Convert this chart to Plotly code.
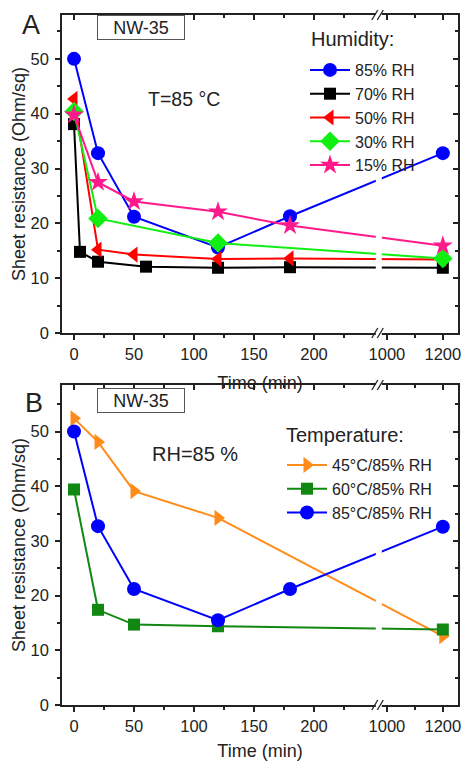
import plotly.graph_objects as go

# sheet resistance (Ohm/sq) vs time (min)
# panel A: T = 85 C, different humidity
t_85rh = [0, 20, 50, 120, 180, 1200]
r_85rh = [50.0, 32.8, 21.2, 15.6, 21.3, 32.8]
t_70rh = [0, 5, 20, 60, 120, 180, 1200]
r_70rh = [38.1, 14.8, 13.0, 12.1, 11.9, 12.0, 11.9]
t_50rh = [0, 20, 50, 120, 180, 1200]
r_50rh = [42.7, 15.2, 14.3, 13.5, 13.6, 13.4]
t_30rh = [0, 20, 120, 1200]
r_30rh = [40.4, 20.9, 16.4, 13.6]
t_15rh = [0, 20, 50, 120, 180, 1200]
r_15rh = [39.8, 27.5, 24.0, 22.1, 19.6, 15.9]

# panel B: RH = 85 %, different temperature
t_45c = [0, 20, 50, 120, 1200]
r_45c = [52.4, 48.1, 39.1, 34.2, 12.6]
t_60c = [0, 20, 50, 120, 1200]
r_60c = [39.4, 17.4, 14.7, 14.4, 13.8]
t_85c = [0, 20, 50, 120, 180, 1200]
r_85c = [50.0, 32.7, 21.2, 15.5, 21.2, 32.6]

x_ticks = [0, 50, 100, 150, 200, 1000, 1200]
x_minor = [25, 75, 125, 175, 225, 1100]
y_ticks = [0, 10, 20, 30, 40, 50]
y_minor = [5, 15, 25, 35, 45, 55]

# broken x axis: linear up to BREAK, then a compressed segment from SEG2_START
BREAK = 254
SEG2_START = 971
SEG2_SCALE = 0.233

W, H = 464, 761
L, R, T, B = 62, 6, 15, 56
FONT = "Liberation Sans, Arial, sans-serif"
INK = "#222222"


def tx(v):
    return v if v <= BREAK else BREAK + (v - SEG2_START) * SEG2_SCALE


def px_x(px):
    return (px - L) / (W - L - R)


def px_y(py):
    return (H - B - py) / (H - T - B)


def series(t, r, name, color, symbol, size, xa, ya, legend):
    return go.Scatter(
        x=[tx(v) for v in t],
        y=r,
        name=name,
        mode="lines+markers",
        line=dict(color=color, width=2),
        marker=dict(symbol=symbol, size=size, color=color),
        xaxis=xa,
        yaxis=ya,
        legend=legend,
    )


fig = go.Figure()
fig.add_trace(series(t_85rh, r_85rh, "85% RH", "#0000ff", "circle", 14, "x", "y", "legend"))
fig.add_trace(series(t_70rh, r_70rh, "70% RH", "#000000", "square", 12, "x", "y", "legend"))
fig.add_trace(series(t_50rh, r_50rh, "50% RH", "#ff0000", "triangle-left", 14, "x", "y", "legend"))
fig.add_trace(series(t_30rh, r_30rh, "30% RH", "#11ee11", "diamond", 15, "x", "y", "legend"))
fig.add_trace(series(t_15rh, r_15rh, "15% RH", "#ff1a8c", "star", 15, "x", "y", "legend"))

fig.add_trace(series(t_45c, r_45c, "45°C/85% RH", "#ff8c1a", "triangle-right", 14, "x2", "y2", "legend2"))
fig.add_trace(series(t_60c, r_60c, "60°C/85% RH", "#118811", "square", 12, "x2", "y2", "legend2"))
fig.add_trace(series(t_85c, r_85c, "85°C/85% RH", "#0000ff", "circle", 14, "x2", "y2", "legend2"))

# transparent helper traces so the overlaid top/right axes (inward ticks) get drawn
for xa, ya in [("x3", "y3"), ("x4", "y4")]:
    fig.add_trace(go.Scatter(
        x=[tx(t_85rh[0])], y=[r_85rh[0]], xaxis=xa, yaxis=ya, mode="markers",
        marker=dict(opacity=0), showlegend=False, hoverinfo="skip",
    ))

x_range = [-10, 320]
xt = [tx(v) for v in x_ticks]
xm = [tx(v) for v in x_minor]

dom_a = [px_y(333), 1]
dom_b = [0, px_y(385)]

axis_line = dict(showline=True, linewidth=1.5, linecolor=INK, showgrid=False, zeroline=False,
                 tickwidth=1.5, tickcolor=INK, ticklen=5)

x_common = dict(
    axis_line,
    mirror=True,
    range=x_range,
    tickmode="array",
    tickvals=xt,
    ticktext=[str(v) for v in x_ticks],
    ticks="outside",
    minor=dict(tickvals=xm, ticklen=3, tickwidth=1.5, tickcolor=INK, ticks="outside"),
    tickfont=dict(size=16.5, color=INK),
    title=dict(text="Time (min)", font=dict(size=18, color=INK), standoff=15),
)
x_top = dict(
    axis_line,
    range=x_range,
    tickmode="array",
    tickvals=xt,
    ticks="inside",
    minor=dict(tickvals=xm, ticklen=3, tickwidth=1.5, tickcolor=INK, ticks="inside"),
    showticklabels=False,
    side="top",
)
y_common = dict(
    axis_line,
    mirror=True,
    tickmode="array",
    tickvals=y_ticks,
    ticks="outside",
    minor=dict(tickvals=y_minor, ticklen=3, tickwidth=1.5, tickcolor=INK, ticks="outside"),
    tickfont=dict(size=16.5, color=INK),
    ticklabelstandoff=3,
    title=dict(text="Sheet resistance (Ohm/sq)", font=dict(size=18, color=INK), standoff=0),
)
y_right = dict(
    axis_line,
    tickmode="array",
    tickvals=y_ticks,
    ticks="inside",
    minor=dict(tickvals=y_minor, ticklen=3, tickwidth=1.5, tickcolor=INK, ticks="inside"),
    showticklabels=False,
    side="right",
)

fig.update_layout(
    xaxis=dict(x_common, anchor="y"),
    yaxis=dict(y_common, domain=dom_a, range=[0, 58], anchor="x"),
    xaxis2=dict(x_common, anchor="y2"),
    yaxis2=dict(y_common, domain=dom_b, range=[0, 58.5], anchor="x2"),
    xaxis3=dict(x_top, overlaying="x", anchor="y"),
    yaxis3=dict(y_right, overlaying="y", anchor="x", range=[0, 58]),
    xaxis4=dict(x_top, overlaying="x2", anchor="y2"),
    yaxis4=dict(y_right, overlaying="y2", anchor="x2", range=[0, 58.5]),
)

# axis breaks: white gap through lines and axes, plus the // marks
for xref, yref in [("x", "y domain"), ("x2", "y2 domain")]:
    fig.add_shape(
        type="rect", xref=xref, yref=yref, xsizemode="pixel", xanchor=BREAK,
        x0=-3, x1=3, y0=-0.012, y1=1.012, fillcolor="white", line_width=0, layer="above",
    )
    for yv in (0, 1):
        for dx in (-4, 1.5):
            fig.add_shape(
                type="line", xref=xref, yref=yref, xsizemode="pixel", xanchor=BREAK,
                ysizemode="pixel", yanchor=yv, x0=dx - 3, x1=dx + 3, y0=-5, y1=5,
                line=dict(color=INK, width=1.3), layer="above",
            )

ann = []
ann.append(dict(x=px_x(31), y=px_y(25), text="A", font=dict(size=27, color=INK)))
ann.append(dict(x=px_x(34), y=px_y(403), text="B", font=dict(size=27, color=INK)))
for cy in (27, 400):
    ann.append(dict(
        x=px_x(141), y=px_y(cy), text="NW-35", font=dict(size=18, color=INK),
        width=84, height=21, bordercolor="#555555", borderwidth=1, borderpad=1, bgcolor="white",
    ))
ann.append(dict(x=px_x(184), y=px_y(99), text="T=85 °C", font=dict(size=19.5, color=INK)))
ann.append(dict(x=px_x(195), y=px_y(454), text="RH=85 %", font=dict(size=20, color=INK)))
for a in ann:
    a.update(xanchor="center")
# legend headings
ann.append(dict(x=px_x(309), y=px_y(39), text="Humidity:", font=dict(size=20, color=INK),
                xanchor="left"))
ann.append(dict(x=px_x(284), y=px_y(435), text="Temperature:", font=dict(size=20, color=INK),
                xanchor="left"))
for a in ann:
    a.update(xref="paper", yref="paper", showarrow=False, yanchor="middle")
fig.update_layout(annotations=ann)

legend_common = dict(
    xref="container", yref="container", xanchor="left", yanchor="top",
    bgcolor="rgba(0,0,0,0)", borderwidth=0, font=dict(size=16, color=INK),
    itemwidth=40, tracegroupgap=0,
)
fig.update_layout(
    legend=dict(legend_common, x=305 / W, y=1 - 53 / H),
    legend2=dict(legend_common, x=282 / W, y=1 - 448 / H),
)

fig.update_layout(
    width=W,
    height=H,
    margin=dict(l=L, r=R, t=T, b=B, autoexpand=False),
    paper_bgcolor="white",
    plot_bgcolor="white",
    font=dict(family=FONT, color=INK),
    showlegend=True,
)

fig.write_html(
    "out.html",
    config={"displayModeBar": False},
    post_script="document.body.style.margin='0';document.body.style.overflow='hidden';",
)
